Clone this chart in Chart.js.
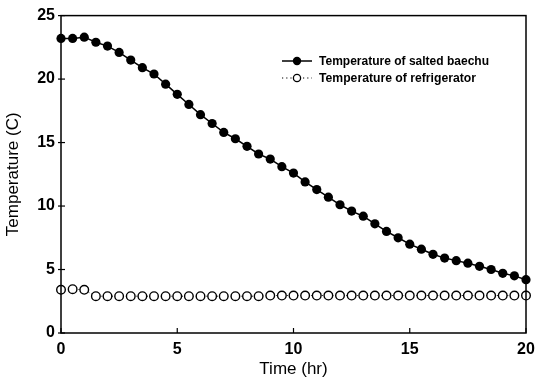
<!DOCTYPE html>
<html>
<head>
<meta charset="utf-8">
<script src="https://cdn.jsdelivr.net/npm/chart.js@4"></script>
<style>
html,body{margin:0;padding:0;background:#fff;}
#wrap{width:536px;height:380px;position:relative;}
</style>
</head>
<body>
<div id="wrap"><canvas id="c" width="536" height="380"></canvas></div>
<script>
const timeHr = [0,0.5,1,1.5,2,2.5,3,3.5,4,4.5,5,5.5,6,6.5,7,7.5,8,8.5,9,9.5,10,10.5,11,11.5,12,12.5,13,13.5,14,14.5,15,15.5,16,16.5,17,17.5,18,18.5,19,19.5,20];
const saltedBaechu = [23.2,23.2,23.3,22.9,22.6,22.1,21.5,20.9,20.4,19.6,18.8,18.0,17.2,16.5,15.8,15.3,14.7,14.1,13.7,13.1,12.6,11.9,11.3,10.7,10.1,9.6,9.2,8.6,8.0,7.5,7.0,6.6,6.2,5.9,5.7,5.5,5.25,5.0,4.7,4.5,4.2];
const refrigerator = [3.4,3.45,3.4,2.9,2.9,2.9,2.9,2.9,2.9,2.9,2.9,2.9,2.9,2.9,2.9,2.9,2.9,2.9,2.95,2.95,2.95,2.95,2.95,2.95,2.95,2.95,2.95,2.95,2.95,2.95,2.95,2.95,2.95,2.95,2.95,2.95,2.95,2.95,2.95,2.95,2.95];
const xTicks = [0,5,10,15,20];
const yTicks = [0,5,10,15,20,25];
const seriesNames = ['Temperature of salted baechu','Temperature of refrigerator'];
const xTitle = 'Time (hr)';
const yTitle = 'Temperature (C)';

const FONT = 'Liberation Sans, Arial, sans-serif';

function drawScaledText(ctx, txt, x, y, targetW) {
  const w = ctx.measureText(txt).width;
  ctx.save();
  ctx.translate(x, y);
  ctx.scale(targetW / w, 1);
  ctx.fillText(txt, 0, 0);
  ctx.restore();
}

const boxPlugin = {
  id: 'box',
  afterDatasetsDraw(chart) {
    const {ctx, chartArea: a} = chart;
    ctx.save();
    ctx.strokeStyle = '#000';
    ctx.lineWidth = 1.5;
    ctx.strokeRect(a.left, a.top, a.right - a.left, a.bottom - a.top);
    ctx.lineWidth = 1.2;
    const xs = chart.scales.x, ys = chart.scales.y;
    xTicks.forEach(v => {
      const px = xs.getPixelForValue(v);
      ctx.beginPath(); ctx.moveTo(px, a.bottom); ctx.lineTo(px, a.bottom - 5); ctx.stroke();
    });
    yTicks.forEach(v => {
      const py = ys.getPixelForValue(v);
      ctx.beginPath(); ctx.moveTo(a.left - 3, py); ctx.lineTo(a.left + 4, py); ctx.stroke();
    });
    // legend
    const lx = 282, ly = [61, 78];
    ctx.font = 'bold 12px ' + FONT;
    ctx.textBaseline = 'middle';
    ctx.fillStyle = '#000';
    ctx.lineWidth = 1.5;
    ctx.setLineDash([]);
    ctx.beginPath(); ctx.moveTo(lx, ly[0]); ctx.lineTo(lx + 30, ly[0]); ctx.stroke();
    ctx.beginPath(); ctx.arc(lx + 15, ly[0], 4.2, 0, Math.PI * 2); ctx.fill();
    drawScaledText(ctx, seriesNames[0], lx + 37, ly[0] + 0.5, 170);
    ctx.lineWidth = 1.2;
    ctx.setLineDash([1.2, 3]);
    ctx.beginPath(); ctx.moveTo(lx, ly[1]); ctx.lineTo(lx + 30, ly[1]); ctx.stroke();
    ctx.setLineDash([]);
    ctx.fillStyle = '#fff';
    ctx.lineWidth = 1.3;
    ctx.beginPath(); ctx.arc(lx + 15, ly[1], 3.6, 0, Math.PI * 2); ctx.fill(); ctx.stroke();
    ctx.fillStyle = '#000';
    drawScaledText(ctx, seriesNames[1], lx + 37, ly[1] + 0.5, 157);
    ctx.restore();
  }
};

new Chart(document.getElementById('c'), {
  type: 'line',
  data: {
    datasets: [
      {
        label: seriesNames[1],
        data: timeHr.map((t, i) => ({x: t, y: refrigerator[i]})),
        borderColor: '#000',
        borderWidth: 1,
        borderDash: [1, 2.5],
        pointRadius: 4.3,
        pointBorderWidth: 1.4,
        pointBackgroundColor: '#fff',
        pointBorderColor: '#000',
        tension: 0,
        clip: false
      },
      {
        label: seriesNames[0],
        data: timeHr.map((t, i) => ({x: t, y: saltedBaechu[i]})),
        borderColor: '#000',
        borderWidth: 1.5,
        pointRadius: 4.6,
        pointBorderWidth: 0,
        pointBackgroundColor: '#000',
        pointBorderColor: '#000',
        tension: 0,
        clip: false
      }
    ]
  },
  options: {
    responsive: false,
    animation: false,
    devicePixelRatio: 1,
    layout: {padding: {left: 0, right: 10, top: 14, bottom: 0}},
    plugins: {legend: {display: false}, tooltip: {enabled: false}},
    scales: {
      x: {
        type: 'linear', min: 0, max: 20,
        afterBuildTicks: s => { s.ticks = xTicks.map(v => ({value: v})); },
        afterFit: s => { s.height = 47; s.paddingRight = 0; s.paddingLeft = 0; },
        grid: {display: false, drawTicks: false},
        border: {display: false},
        ticks: {color: '#000', font: {family: FONT, size: 16, weight: 'bold'}, padding: 7, maxRotation: 0},
        title: {display: true, text: xTitle, color: '#000', font: {family: FONT, size: 17}, padding: {top: 0, bottom: 0}}
      },
      y: {
        min: 0, max: 25,
        afterBuildTicks: s => { s.ticks = yTicks.map(v => ({value: v})); },
        afterFit: s => { s.width = 61; },
        grid: {display: false, drawTicks: false},
        border: {display: false},
        ticks: {color: '#000', font: {family: FONT, size: 16, weight: 'bold'}, padding: 6},
        title: {display: true, text: yTitle, color: '#000', font: {family: FONT, size: 17}, padding: {top: 3, bottom: 0}}
      }
    }
  },
  plugins: [boxPlugin]
});
</script>
</body>
</html>
